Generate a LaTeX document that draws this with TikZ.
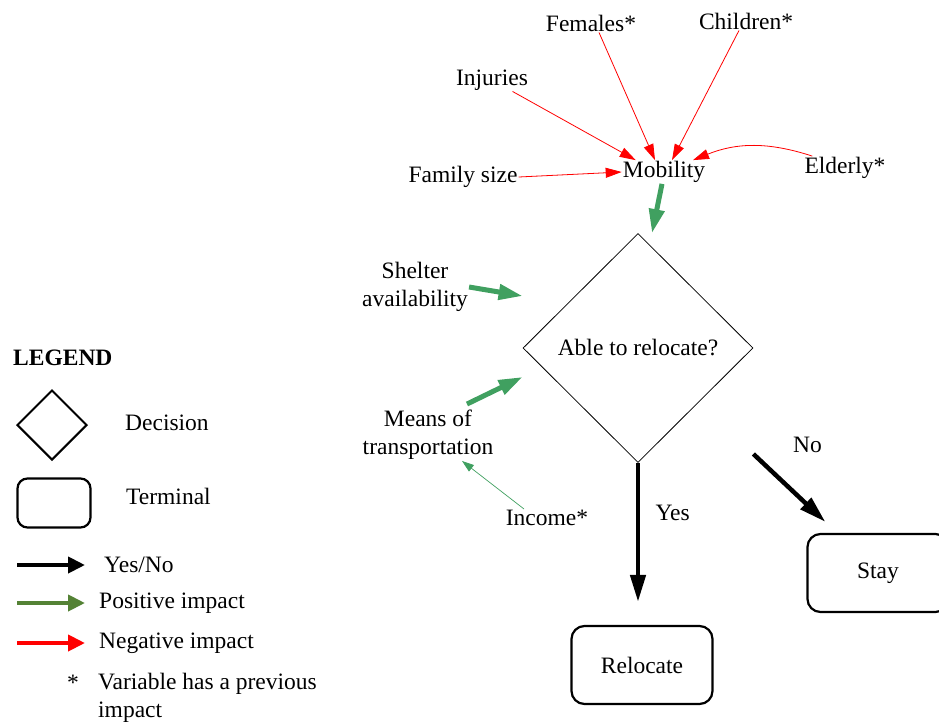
\documentclass[tikz,border=0pt]{standalone}
\usepackage{fontspec}
\setmainfont{Liberation Serif}
\usetikzlibrary{arrows.meta,calc,positioning,shapes.geometric}
\definecolor{posgreen}{RGB}{64,160,96}
\definecolor{leggreen}{RGB}{84,130,53}

\begin{document}
\begin{tikzpicture}[
    x=1pt, y=-1pt,
    font={\fontsize{23.5}{28}\selectfont},
    lbl/.style={inner sep=1pt, align=center},
    decide/.style={draw, diamond, aspect=1, inner sep=0pt, line width=0.8pt},
    term/.style={
      draw,
      rounded corners=13pt,
      line width=2.2pt,
      minimum width=141pt,
      minimum height=78pt,
    },
    negarr/.style={-{Triangle[length=16pt,width=10pt]}, red, line width=0.8pt},
    posarr/.style={-{Triangle[length=24pt,width=15pt]}, posgreen, line width=5pt},
    possmall/.style={-{Triangle[length=12pt,width=8pt]}, posgreen, line width=0.7pt},
    yesno/.style={-{Triangle[length=27pt,width=15pt]}, line width=4.5pt},
    keyarr/.style={-{Triangle[length=17pt,width=16pt]}, line width=4pt},
  ]
  \useasboundingbox (0,0) rectangle (939,725);

  % factors acting on mobility
  \node[lbl] (mob) at (664,172) {Mobility};
  \node[lbl] (fam) at (463,177) {Family size};
  \node[lbl] (inj) at (492,80) {Injuries};
  \node[lbl] (fem) at (591,23) {Females*};
  \node[lbl] (chi) at (746,21) {Children*};
  \node[lbl] (eld) at (845,168) {Elderly*};

  \draw[negarr] (fam.east) -- (mob.west);
  \draw[negarr] (inj) -- ([xshift=14pt]mob.north west);
  \draw[negarr] ([xshift=8pt]fem.south) -- ([xshift=-9pt]mob.north);
  \draw[negarr] ([xshift=-7pt]chi.south) -- ([xshift=8pt]mob.north);
  \draw[negarr] ([xshift=9pt]eld.north west) to[bend right=20] ([xshift=29pt]mob.north);

  % decision
  \node[decide, minimum width=230pt, minimum height=229pt] (dec) at (638,348) {Able to relocate?};
  \node[lbl] (shel) at (415,287) {Shelter\\availability};
  \node[lbl] (mean) at (428,435) {Means of\\transportation};
  \node[lbl] (inc) at (547,518) {Income*};

  \draw[posarr] ([xshift=-2pt]mob.south) -- ([xshift=14pt]dec.north);
  \draw[posarr] (shel.east) -- ([yshift=52pt]dec.west);
  \draw[posarr] ([xshift=39pt,yshift=5pt]mean.north) -- ([yshift=-29pt]dec.west);
  \draw[possmall] ([xshift=-23pt]inc.north) -- ([xshift=34pt]mean.south);

  % outcomes
  \node[term] (reloc) at (642,665) {Relocate};
  \node[term] (stay) at (878,573) {Stay};

  \draw[yesno, shorten >=23pt] (dec.south) --
    node[pos=0.31, right=12pt] {Yes} (dec.south |- reloc.north);
  \draw[yesno] ($(dec.east)+(0,106)$) --
    node[at start, xshift=54pt, yshift=9pt] {No} ($(stay.north west)+(19,-11)$);

  % legend
  \node[lbl, anchor=west] (leg) at (12,358) {\textbf{LEGEND}};
  \node[decide, line width=2pt, minimum size=70pt] (ldec) at (52,425) {};
  \node[lbl, anchor=west] (ldect) at (124,423) {Decision};
  \node[draw, rounded corners=10pt, line width=2.2pt,
    minimum width=73pt, minimum height=49pt] (lterm) at (54,503) {};
  \node[lbl, anchor=west] (ltermt) at (125,496) {Terminal};

  \coordinate (kyes) at (17,565);
  \node[lbl, anchor=west] (kyest) at (103,565) {Yes/No};
  \draw[keyarr, shorten >=18pt] (kyes) -- (kyest.west);

  \coordinate (kpos) at (17,603);
  \node[lbl, anchor=west] (kpost) at (98,603) {Positive impact};
  \draw[keyarr, leggreen, shorten >=13pt] (kpos) -- (kpost.west);

  \coordinate (kneg) at (17,643);
  \node[lbl, anchor=west] (knegt) at (98,643) {Negative impact};
  \draw[keyarr, red, shorten >=13pt] (kneg) -- (knegt.west);

  \node[lbl] (kstar) at (73,683) {*};
  \node[lbl, anchor=west, align=left] (kvar) at (97,698) {Variable has a previous\\impact};
\end{tikzpicture}
\end{document}
